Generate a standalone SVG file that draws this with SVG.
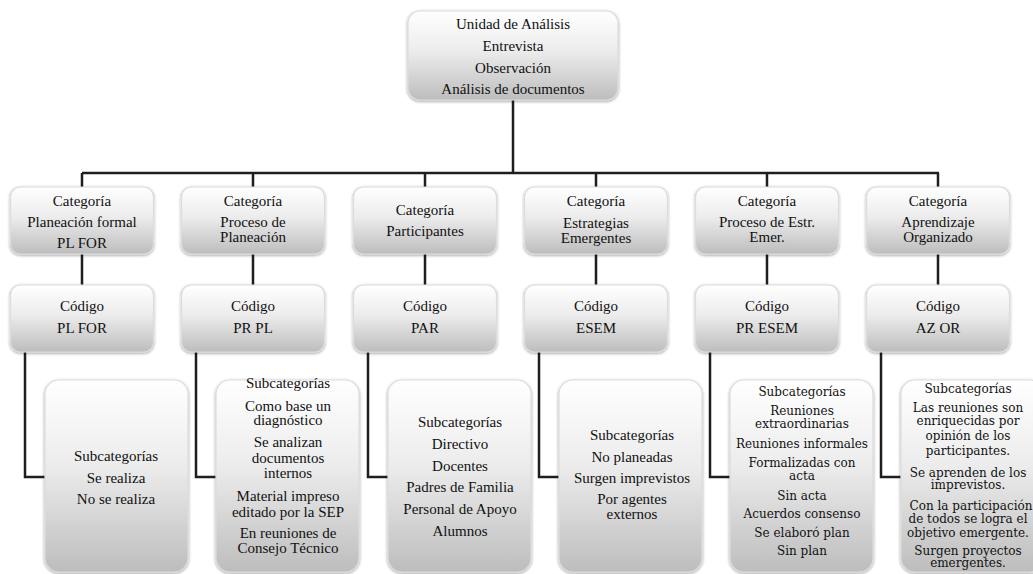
<svg xmlns="http://www.w3.org/2000/svg" width="1033" height="574" viewBox="0 0 1033 574">
<defs>
<linearGradient id="g" x1="0" y1="0" x2="0" y2="1">
<stop offset="0" stop-color="#ffffff"/>
<stop offset="0.45" stop-color="#ececec"/>
<stop offset="1" stop-color="#bdbdbd"/>
</linearGradient>
<filter id="sh" x="-10%" y="-10%" width="120%" height="120%">
<feGaussianBlur in="SourceAlpha" stdDeviation="1.5"/>
<feOffset dx="0" dy="1" result="b"/>
<feComponentTransfer><feFuncA type="linear" slope="0.4"/></feComponentTransfer>
<feMerge><feMergeNode/><feMergeNode in="SourceGraphic"/></feMerge>
</filter>
</defs>
<style>
.box{fill:url(#g);stroke:#dcdcdc;stroke-width:1.2;filter:url(#sh)}
.t{font-size:15px;fill:#111;text-anchor:middle}
.s{font-size:12px;fill:#111;text-anchor:middle}
.c{fill:none;stroke:#1e1e1e;stroke-width:2.5}
</style>
<rect width="1033" height="574" fill="#ffffff"/>
<g id="connectors">
<path class="c" d="M513 100V173M82 173H939"/>
<path class="c" d="M82 173V187M253 173V187M425 173V187M596 173V187M767 173V187M938 173V187"/>
<path class="c" d="M82 254V285M253 254V285M425 254V285M596 254V285M767 254V285M938 254V285"/>
<path class="c" d="M25 352V477H45M196 352V477H216M368 352V477H388M539 352V477H559M710 352V477H730M881 352V477H901"/>
</g>
<g font-family="Liberation Serif, Times New Roman, serif">
<g id="root">
<rect class="box" x="408" y="11" width="210" height="89" rx="12"/>
<text class="t" x="513" y="29">Unidad de Análisis</text>
<text class="t" x="513" y="51">Entrevista</text>
<text class="t" x="513" y="73">Observación</text>
<text class="t" x="513" y="94">Análisis de documentos</text>
</g>
<g id="cat1">
<rect class="box" x="10.5" y="187" width="143" height="67" rx="10"/>
<text class="t" x="82" y="206">Categoría</text>
<text class="t" x="82" y="227">Planeación formal</text>
<text class="t" x="82" y="248">PL FOR</text>
</g>
<g id="cat2">
<rect class="box" x="181.5" y="187" width="143" height="67" rx="10"/>
<text class="t" x="253" y="206">Categoría</text>
<text class="t" x="253" y="227">Proceso de</text>
<text class="t" x="253" y="242">Planeación</text>
</g>
<g id="cat3">
<rect class="box" x="353.5" y="187" width="143" height="67" rx="10"/>
<text class="t" x="425" y="215">Categoría</text>
<text class="t" x="425" y="236">Participantes</text>
</g>
<g id="cat4">
<rect class="box" x="524.5" y="187" width="143" height="67" rx="10"/>
<text class="t" x="596" y="206">Categoría</text>
<text class="t" x="596" y="228">Estrategias</text>
<text class="t" x="596" y="243">Emergentes</text>
</g>
<g id="cat5">
<rect class="box" x="695.5" y="187" width="143" height="67" rx="10"/>
<text class="t" x="767" y="206">Categoría</text>
<text class="t" x="767" y="227">Proceso de Estr.</text>
<text class="t" x="767" y="242">Emer.</text>
</g>
<g id="cat6">
<rect class="box" x="866.5" y="187" width="143" height="67" rx="10"/>
<text class="t" x="938" y="206">Categoría</text>
<text class="t" x="938" y="227">Aprendizaje</text>
<text class="t" x="938" y="242">Organizado</text>
</g>
<g id="code1">
<rect class="box" x="10.5" y="285" width="143" height="67" rx="10"/>
<text class="t" x="82" y="311">Código</text>
<text class="t" x="82" y="333">PL FOR</text>
</g>
<g id="code2">
<rect class="box" x="181.5" y="285" width="143" height="67" rx="10"/>
<text class="t" x="253" y="311">Código</text>
<text class="t" x="253" y="333">PR PL</text>
</g>
<g id="code3">
<rect class="box" x="353.5" y="285" width="143" height="67" rx="10"/>
<text class="t" x="425" y="311">Código</text>
<text class="t" x="425" y="333">PAR</text>
</g>
<g id="code4">
<rect class="box" x="524.5" y="285" width="143" height="67" rx="10"/>
<text class="t" x="596" y="311">Código</text>
<text class="t" x="596" y="333">ESEM</text>
</g>
<g id="code5">
<rect class="box" x="695.5" y="285" width="143" height="67" rx="10"/>
<text class="t" x="767" y="311">Código</text>
<text class="t" x="767" y="333">PR ESEM</text>
</g>
<g id="code6">
<rect class="box" x="866.5" y="285" width="143" height="67" rx="10"/>
<text class="t" x="938" y="311">Código</text>
<text class="t" x="938" y="333">AZ OR</text>
</g>
<g id="sub1">
<rect class="box" x="45" y="380" width="143" height="192" rx="14"/>
<text class="t" x="116" y="461">Subcategorías</text>
<text class="t" x="116" y="483">Se realiza</text>
<text class="t" x="116" y="504">No se realiza</text>
</g>
<g id="sub2">
<rect class="box" x="216" y="380" width="143" height="192" rx="14"/>
<text class="t" x="288" y="388">Subcategorías</text>
<text class="t" x="288" y="411">Como base un</text>
<text class="t" x="288" y="425">diagnóstico</text>
<text class="t" x="288" y="447">Se analizan</text>
<text class="t" x="288" y="463">documentos</text>
<text class="t" x="288" y="478">internos</text>
<text class="t" x="288" y="501">Material impreso</text>
<text class="t" x="288" y="517">editado por la SEP</text>
<text class="t" x="288" y="538">En reuniones de</text>
<text class="t" x="288" y="553">Consejo Técnico</text>
</g>
<g id="sub3">
<rect class="box" x="388" y="380" width="143" height="192" rx="14"/>
<text class="t" x="460" y="427">Subcategorías</text>
<text class="t" x="460" y="449">Directivo</text>
<text class="t" x="460" y="471">Docentes</text>
<text class="t" x="460" y="492">Padres de Familia</text>
<text class="t" x="460" y="514">Personal de Apoyo</text>
<text class="t" x="460" y="536">Alumnos</text>
</g>
<g id="sub4">
<rect class="box" x="559" y="380" width="143" height="192" rx="14"/>
<text class="t" x="632" y="440">Subcategorías</text>
<text class="t" x="632" y="462">No planeadas</text>
<text class="t" x="632" y="483">Surgen imprevistos</text>
<text class="t" x="632" y="504">Por agentes</text>
<text class="t" x="632" y="519">externos</text>
</g>
</g>
<g font-family="DejaVu Serif, serif">
<g id="sub5">
<rect class="box" x="730" y="380" width="143" height="192" rx="14"/>
<text class="s" x="802" y="396">Subcategorías</text>
<text class="s" x="802" y="415">Reuniones</text>
<text class="s" x="802" y="428">extraordinarias</text>
<text class="s" x="802" y="448">Reuniones informales</text>
<text class="s" x="802" y="467">Formalizadas con</text>
<text class="s" x="802" y="480">acta</text>
<text class="s" x="802" y="500">Sin acta</text>
<text class="s" x="802" y="518">Acuerdos consenso</text>
<text class="s" x="802" y="537">Se elaboró plan</text>
<text class="s" x="802" y="555">Sin plan</text>
</g>
<g id="sub6">
<rect class="box" x="901" y="380" width="143" height="192" rx="14"/>
<text class="s" x="968" y="393">Subcategorías</text>
<text class="s" x="968" y="412">Las reuniones son</text>
<text class="s" x="968" y="425">enriquecidas por</text>
<text class="s" x="968" y="440">opinión de los</text>
<text class="s" x="968" y="455">participantes.</text>
<text class="s" x="968" y="477">Se aprenden de los</text>
<text class="s" x="968" y="489">imprevistos.</text>
<text class="s" x="971" y="510">Con la participación</text>
<text class="s" x="968" y="523">de todos se logra el</text>
<text class="s" x="968" y="537">objetivo emergente.</text>
<text class="s" x="968" y="555">Surgen proyectos</text>
<text class="s" x="968" y="567">emergentes.</text>
</g>
</g>
</svg>
